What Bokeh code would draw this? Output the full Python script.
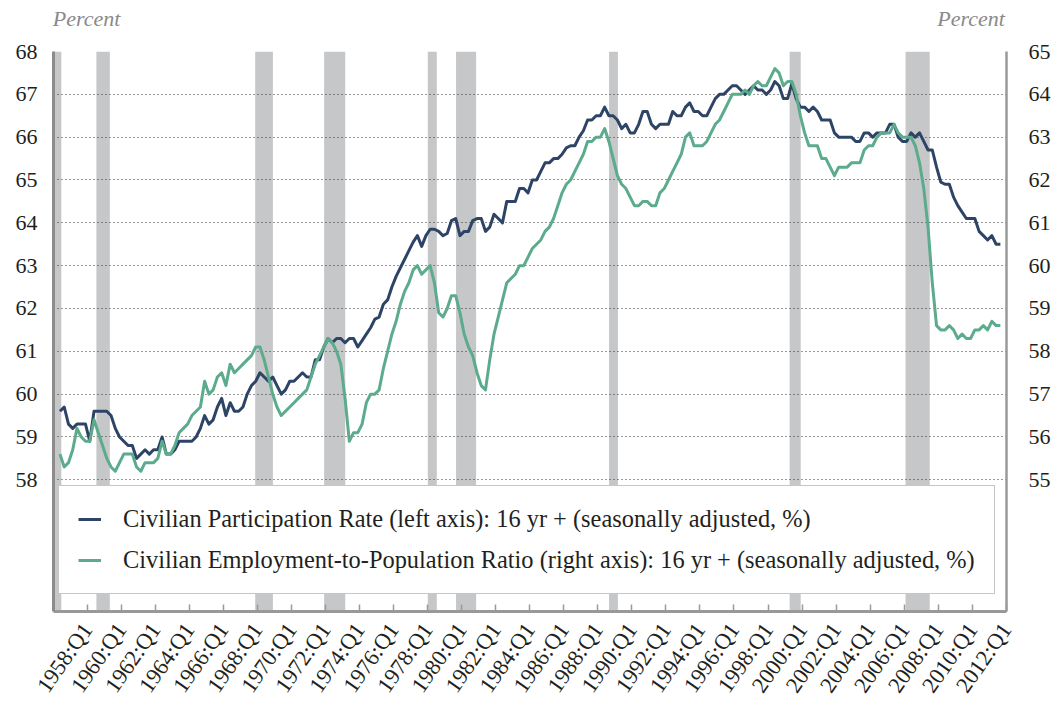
import math
from bokeh.plotting import figure
from bokeh.models import (Range1d, LinearAxis, FixedTicker, Legend, LegendItem,
                          CustomJSTickFormatter)
from bokeh.embed import file_html
from bokeh.resources import INLINE

# ---------------- data ----------------
FIRST_YEAR = 1958  # first observation: 1958:Q1, quarterly

# Civilian participation rate, 16 yr +, SA (%), left axis
participation = [
    59.6, 59.7, 59.3, 59.2, 59.3, 59.3, 59.3, 58.9, 59.6, 59.6,
    59.6, 59.6, 59.5, 59.2, 59.0, 58.9, 58.8, 58.8, 58.5, 58.6,
    58.7, 58.6, 58.7, 58.7, 59.0, 58.6, 58.6, 58.7, 58.9, 58.9,
    58.9, 58.9, 59.0, 59.2, 59.5, 59.3, 59.4, 59.7, 59.9, 59.5,
    59.8, 59.6, 59.6, 59.7, 60.0, 60.2, 60.3, 60.5, 60.4, 60.3,
    60.4, 60.2, 60.0, 60.1, 60.3, 60.3, 60.4, 60.5, 60.4, 60.4,
    60.8, 60.8, 61.1, 61.3, 61.2, 61.3, 61.3, 61.2, 61.3, 61.3,
    61.1, 61.25, 61.4, 61.55, 61.75, 61.8, 62.1, 62.2, 62.5, 62.75,
    62.95, 63.15, 63.35, 63.55, 63.7, 63.45, 63.7, 63.85, 63.85, 63.8,
    63.7, 63.75, 64.05, 64.1, 63.7, 63.8, 63.8, 64.05, 64.1, 64.1,
    63.8, 63.9, 64.2, 64.1, 64.0, 64.5, 64.5, 64.5, 64.8, 64.8,
    64.7, 65.0, 65.0, 65.2, 65.4, 65.4, 65.5, 65.5, 65.6, 65.75,
    65.8, 65.8, 66.0, 66.15, 66.4, 66.4, 66.5, 66.5, 66.7, 66.5,
    66.5, 66.4, 66.2, 66.3, 66.1, 66.1, 66.3, 66.6, 66.6, 66.3,
    66.2, 66.3, 66.3, 66.3, 66.6, 66.5, 66.5, 66.7, 66.8, 66.6,
    66.6, 66.5, 66.5, 66.7, 66.9, 67.0, 67.0, 67.1, 67.2, 67.2,
    67.1, 67.0, 67.1, 67.2, 67.1, 67.1, 67.0, 67.1, 67.3, 67.2,
    66.9, 66.9, 67.25, 66.9, 66.7, 66.7, 66.6, 66.7, 66.6, 66.4,
    66.4, 66.4, 66.1, 66.0, 66.0, 66.0, 66.0, 65.9, 65.9, 66.1,
    66.1, 66.0, 66.1, 66.1, 66.1, 66.3, 66.3, 66.0, 65.9, 65.9,
    66.1, 66.0, 66.1, 65.9, 65.7, 65.7, 65.3, 64.95, 64.9, 64.9,
    64.6, 64.4, 64.25, 64.1, 64.1, 64.1, 63.8, 63.7, 63.6, 63.7,
    63.5, 63.5,
]

# Civilian employment-to-population ratio, 16 yr +, SA (%), right axis
emp_pop = [
    55.6, 55.3, 55.4, 55.7, 56.2, 56.0, 55.9, 55.9, 56.4, 56.1,
    55.8, 55.5, 55.3, 55.2, 55.4, 55.6, 55.6, 55.6, 55.3, 55.2,
    55.4, 55.4, 55.4, 55.5, 55.9, 55.6, 55.6, 55.8, 56.1, 56.2,
    56.3, 56.5, 56.6, 56.7, 57.3, 57.0, 57.1, 57.4, 57.5, 57.2,
    57.7, 57.5, 57.6, 57.7, 57.8, 57.9, 58.1, 58.1, 57.8, 57.4,
    57.0, 56.7, 56.5, 56.6, 56.7, 56.8, 56.9, 57.0, 57.1, 57.4,
    57.7, 57.9, 58.1, 58.3, 58.2, 58.0, 57.7, 56.9, 55.9, 56.1,
    56.1, 56.3, 56.8, 57.0, 57.0, 57.1, 57.6, 58.0, 58.4, 58.7,
    59.1, 59.4, 59.6, 59.9, 60.0, 59.8, 59.9, 60.0, 59.6, 58.9,
    58.8, 59.0, 59.3, 59.3, 58.9, 58.4, 58.1, 57.9, 57.5, 57.2,
    57.1, 57.8, 58.4, 58.8, 59.2, 59.6, 59.7, 59.8, 60.0, 60.0,
    60.2, 60.4, 60.5, 60.6, 60.8, 60.9, 61.1, 61.4, 61.7, 61.9,
    62.0, 62.2, 62.4, 62.6, 62.9, 62.9, 63.0, 63.0, 63.2, 62.9,
    62.5, 62.1, 61.9, 61.8, 61.6, 61.4, 61.4, 61.5, 61.5, 61.4,
    61.4, 61.7, 61.8, 62.0, 62.2, 62.4, 62.6, 63.0, 63.1, 62.8,
    62.8, 62.8, 62.9, 63.1, 63.3, 63.4, 63.6, 63.8, 64.0, 64.0,
    64.0, 64.1, 64.0, 64.2, 64.3, 64.2, 64.2, 64.4, 64.6, 64.5,
    64.2, 64.3, 64.3, 64.0, 63.5, 63.1, 62.8, 62.8, 62.8, 62.5,
    62.5, 62.3, 62.1, 62.3, 62.3, 62.3, 62.4, 62.4, 62.4, 62.7,
    62.8, 62.8, 63.0, 63.1, 63.1, 63.1, 63.3, 63.1, 63.0, 63.0,
    63.0, 62.8, 62.4, 61.8, 60.9, 59.6, 58.6, 58.5, 58.5, 58.6,
    58.5, 58.3, 58.4, 58.3, 58.3, 58.5, 58.5, 58.6, 58.5, 58.7,
    58.6, 58.6,
]

# recession shading (decimal years)
rec_start = [1957.55, 1960.14, 1969.47, 1973.52, 1979.61, 1981.27, 1990.26, 2000.87, 2007.68]
rec_end = [1958.08, 1960.93, 1970.51, 1974.76, 1980.14, 1982.45, 1990.78, 2001.52, 2009.10]

tick_years = list(range(1958, 2013, 2))      # labels "1958:Q1" ... "2012:Q1"
left_ticks = list(range(58, 69))
right_ticks = list(range(55, 66))

series_names = [
    "Civilian Participation Rate (left axis): 16 yr + (seasonally adjusted, %)",
    "Civilian Employment-to-Population Ratio (right axis): 16 yr + (seasonally adjusted, %)",
]
unit_text = "Percent"

# ---------------- style ----------------
BLUE = "#2e4466"
GREEN = "#5bab8c"
REC = "#c6c7c9"
TXT = "#231f20"
FONT = "Liberation Serif"
LABEL_SHIFT = 1.6   # rotated category labels sit this far (years) right of their quarter

x = [FIRST_YEAR + i / 4 for i in range(len(participation))]

X0, X1 = 1957.62, 2013.61
L_MIN, L_MAX = 54.925, 68
OFF = 3  # right axis = left axis - 3
FRAME_W, FRAME_H = 953, 560
PX_PER_YEAR = FRAME_W / (X1 - X0)

p = figure(frame_width=FRAME_W, frame_height=FRAME_H, output_backend="svg",
           toolbar_location=None,
           x_range=Range1d(X0, X1), y_range=Range1d(L_MIN, L_MAX),
           min_border_left=53, min_border_right=41, min_border_top=51, min_border_bottom=93)
p.extra_y_ranges = {"right": Range1d(L_MIN - OFF, L_MAX - OFF)}
p.outline_line_color = None
p.background_fill_color = "white"
p.border_fill_color = "white"

# recession bars
p.quad(left=rec_start, right=rec_end, bottom=L_MIN, top=L_MAX,
       fill_color=REC, line_color=None, level="image")

# grid
p.xgrid.visible = False
p.ygrid.ticker = FixedTicker(ticks=left_ticks)
p.ygrid.grid_line_color = "#333333"
p.ygrid.grid_line_dash = "1 3"
p.ygrid.grid_line_width = 1

# lines
r1 = p.line(x, participation, line_color=BLUE, line_width=3, line_join="round")
r2 = p.line(x, emp_pop, line_color=GREEN, line_width=3, line_join="round",
            y_range_name="right")

# x axis
xa = p.xaxis[0]
xa.ticker = FixedTicker(ticks=[y + LABEL_SHIFT for y in tick_years])
xa.formatter = CustomJSTickFormatter(args=dict(shift=LABEL_SHIFT),
                                     code="return Math.round(tick - shift) + ':Q1';")
xa.major_label_orientation = math.radians(55)
xa.major_label_text_font = FONT
xa.major_label_text_font_size = "22.5px"
xa.major_label_text_color = TXT
xa.major_label_standoff = 14
xa.major_tick_in = 7
xa.major_tick_out = 0
xa.major_tick_line_color = "#999999"
xa.major_tick_line_width = 1.5
xa.minor_tick_line_color = None
xa.axis_line_color = "#999999"
xa.axis_line_width = 3

# left axis
ya = p.yaxis[0]
ya.ticker = FixedTicker(ticks=left_ticks)
ya.major_label_text_font = FONT
ya.major_label_text_font_size = "22px"
ya.major_label_text_color = TXT
ya.major_label_standoff = 10
ya.major_tick_line_color = None
ya.minor_tick_line_color = None
ya.axis_line_color = "#8c8c8c"
ya.axis_line_width = 3

# right axis
ra = LinearAxis(y_range_name="right", ticker=FixedTicker(ticks=right_ticks))
ra.major_label_text_font = FONT
ra.major_label_text_font_size = "22px"
ra.major_label_text_color = TXT
ra.major_label_standoff = 16
ra.major_tick_line_color = None
ra.minor_tick_line_color = None
ra.axis_line_color = "#9a9a9a"
ra.axis_line_width = 2.5
p.add_layout(ra, "right")

# "Percent" unit labels above each value axis (an undecorated top axis)
ua = LinearAxis(ticker=FixedTicker(ticks=[X0 + 33 / PX_PER_YEAR, X1 - 35.5 / PX_PER_YEAR]),
                formatter=CustomJSTickFormatter(args=dict(t=unit_text), code="return t;"))
ua.axis_line_color = None
ua.major_tick_line_color = None
ua.minor_tick_line_color = None
ua.major_label_text_font = FONT
ua.major_label_text_font_style = "italic"
ua.major_label_text_font_size = "22px"
ua.major_label_text_color = "#8a8a8a"
ua.major_label_standoff = 15
p.add_layout(ua, "above")

# legend
legend = Legend(items=[LegendItem(label=series_names[0], renderers=[r1]),
                       LegendItem(label=series_names[1], renderers=[r2])],
                location=(5, 17), orientation="vertical",
                border_line_color="#8d8d8d", border_line_width=1.5,
                background_fill_color="white", background_fill_alpha=1.0,
                label_text_font=FONT, label_text_font_size="24.4px", label_text_color=TXT,
                glyph_width=23, glyph_height=28, label_height=28,
                spacing=13, padding=19, label_standoff=22, margin=0)
p.add_layout(legend)

open("out.html", "w").write(file_html(p, INLINE))
